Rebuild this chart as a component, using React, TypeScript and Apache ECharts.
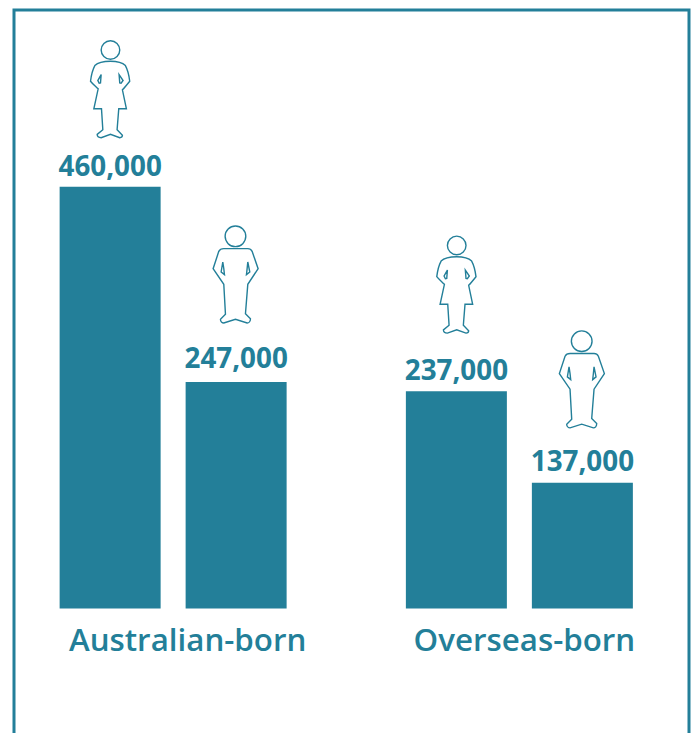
import React, { useEffect, useRef } from "react";
import * as echarts from "echarts";

const categories = ["Australian-born", "Overseas-born"];
const womenValues = [460000, 237000];
const menValues = [247000, 137000];

const TEAL = "#237f99";
const FONT = "'Open Sans', sans-serif";

const womanPath =
  "M0 62 C18 62 36 66 45 75 C52 88 56 105 58 122 C50 132 42 142 36 148 L48 205 L25 205 L20 268 L36 285 C36 290 32 292 28 292 L0 282 L-28 292 C-36 292 -40 288 -40 282 L-23 268 L-27 205 L-50 205 L-37 145 C-44 138 -54 130 -60 122 C-58 105 -54 88 -47 75 C-38 66 -18 62 0 62 Z " +
  "M26 102 L38 120 L32 128 L28 127 Z M-28 102 L-38 120 L-34 128 L-30 127 Z " +
  "M28 28 A28 28 0 1 1 -28 28 A28 28 0 1 1 28 28 Z";
const manPath =
  "M-35 68 L37 68 C44 68 48 72 50 76 L68 128 L37 175 L30 263 L45 278 C45 286 40 291 35 291 L0 280 L-35 291 C-40 291 -45 286 -45 280 L-30 265 L-35 175 L-67 128 L-50 76 C-48 72 -44 68 -35 68 Z " +
  "M37 108 L43 138 L33 146 L35 128 Z M-38 108 L-43 138 L-33 146 L-35 128 Z " +
  "M31 31 A31 31 0 1 1 -31 31 A31 31 0 1 1 31 31 Z";

// distance from the bar top to the icon's top, per category
const womanLift = [146, 155];
const manLift = [156, 152];
const womanLabelGap = [8, 8];
const manLabelGap = [11, 9];

function iconSeries(pathData: string, values: number[], lifts: number[], dx: number) {
  return {
    type: "custom",
    silent: true,
    data: values.map((v, i) => [i, v]),
    renderItem: (_p: any, api: any) => {
      const i = api.value(0);
      const pt = api.coord([i, api.value(1)]);
      return {
        type: "path",
        shape: { pathData, x: pt[0] + dx - 23, y: pt[1] - lifts[i], width: 46, height: 97 },
        style: { fill: "#fff", stroke: TEAL, lineWidth: 1.4 },
      };
    },
  };
}

export default function App() {
  const ref = useRef<HTMLDivElement>(null);
  useEffect(() => {
    document.body.style.margin = "0";
    const chart = echarts.init(ref.current!, null, { renderer: "svg" });
    const barBase = {
      type: "bar",
      barWidth: 101,
      barGap: "24.75%",
      itemStyle: { color: TEAL },
    };
    const label = (gap: number) => ({
      show: true,
      position: "top",
      distance: gap,
      color: TEAL,
      fontFamily: FONT,
      fontWeight: 700,
      fontSize: 27.8,
      formatter: (p: any) => p.value.toLocaleString("en-US"),
    });
    chart.setOption({
      animation: false,
      backgroundColor: "#fff",
      grid: { left: -1.5, top: 150, width: 694, height: 458.5 },
      xAxis: {
        type: "category",
        data: [
          { value: categories[0], textStyle: { padding: [0, 0, 0, 29] } },
          { value: categories[1], textStyle: { padding: [0, 0, 0, 10] } },
        ],
        axisLine: { show: false },
        axisTick: { show: false },
        axisLabel: { color: TEAL, fontFamily: FONT, fontWeight: 600, fontSize: 31.3, margin: 15, interval: 0 },
      },
      yAxis: { type: "value", min: 0, max: 500000, show: false },
      series: [
        { ...barBase, name: "Women", data: womenValues.map((v, i) => ({ value: v, label: label(womanLabelGap[i]) })) },
        { ...barBase, name: "Men", data: menValues.map((v, i) => ({ value: v, label: label(manLabelGap[i]) })) },
        iconSeries(womanPath, womenValues, womanLift, -63),
        iconSeries(manPath, menValues, manLift, 62.5),
      ],
      graphic: [
        { type: "rect", silent: true, shape: { x: 14, y: 10, width: 675, height: 800 }, style: { fill: "none", stroke: TEAL, lineWidth: 3 } },
      ],
    });
    return () => chart.dispose();
  }, []);
  return <div ref={ref} style={{ width: 693, height: 733 }} />;
}
